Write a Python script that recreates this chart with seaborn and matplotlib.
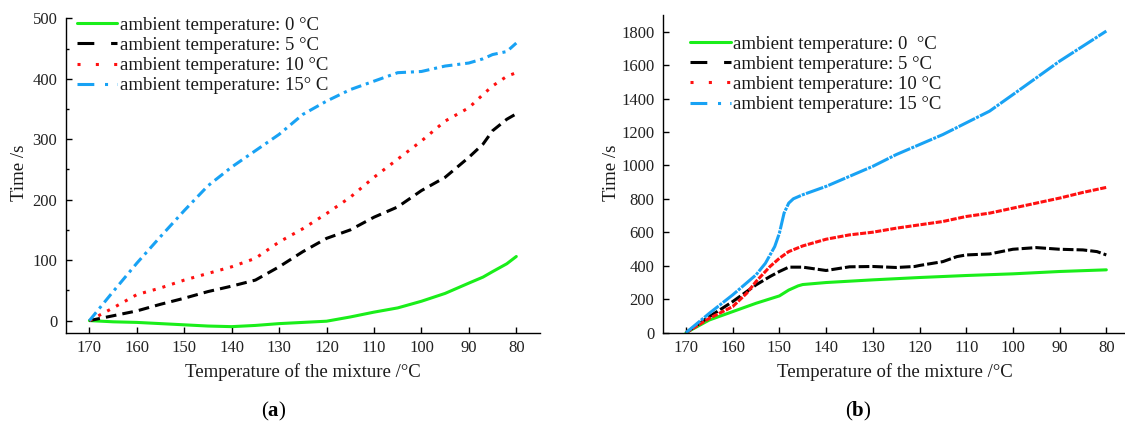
import matplotlib
matplotlib.use("Agg")
import matplotlib.pyplot as plt
import seaborn as sns
from matplotlib.lines import Line2D
from matplotlib.ticker import MultipleLocator

# ---------------- data ----------------
# panel (a)
xa = [170, 165, 160, 155, 150, 145, 140, 135, 130, 125, 120, 115, 110, 105, 100, 95, 90, 87, 85, 82, 80]
a_0 = [0, -2, -3, -5, -7, -9, -10, -8, -5, -3, -1, 6, 14, 21, 32, 45, 62, 72, 81, 94, 106]
a_5 = [0, 8, 16, 27, 37, 48, 57, 67, 89, 114, 136, 150, 171, 188, 215, 237, 270, 292, 314, 333, 342]
a_10 = [0, 21, 43, 54, 67, 78, 89, 103, 130, 152, 177, 204, 237, 267, 297, 330, 352, 374, 388, 404, 410]
a_15 = [0, 48, 95, 139, 182, 223, 254, 281, 308, 341, 363, 382, 396, 410, 412, 421, 426, 433, 440, 445, 459]

# panel (b)
xb_0 = [170, 165, 160, 155, 150, 148, 146, 145, 140, 130, 120, 110, 100, 90, 80]
b_0 = [0, 76, 126, 176, 220, 255, 280, 288, 300, 316, 330, 342, 352, 366, 376]
xb_5 = [170, 165, 160, 155, 152, 150, 148, 145, 141, 140, 135, 130, 125, 121, 120, 115, 112, 110, 105, 100, 97, 95, 90, 85, 82, 80]
b_5 = [0, 96, 186, 286, 336, 366, 392, 392, 376, 372, 394, 396, 390, 396, 402, 425, 455, 465, 471, 499, 505, 509, 499, 495, 485, 465]
xb_10 = [170, 165, 160, 157, 155, 152, 150, 148, 145, 140, 135, 130, 125, 120, 115, 110, 105, 100, 95, 90, 85, 80]
b_10 = [0, 86, 156, 236, 306, 396, 445, 485, 519, 559, 585, 601, 625, 645, 665, 695, 715, 745, 775, 805, 839, 869]
xb_15 = [170, 165, 160, 155, 153, 151, 150, 149, 148, 147, 145, 140, 135, 130, 125, 120, 115, 110, 105, 100, 95, 90, 85, 80]
b_15 = [0, 116, 226, 346, 415, 515, 595, 715, 775, 801, 825, 875, 935, 995, 1065, 1125, 1185, 1255, 1325, 1424, 1524, 1624, 1714, 1804]

labels_a = ["ambient temperature: 0 \u00b0C", "ambient temperature: 5 \u00b0C",
            "ambient temperature: 10 \u00b0C", "ambient temperature: 15\u00b0 C"]
labels_b = ["ambient temperature: 0  \u00b0C", "ambient temperature: 5 \u00b0C",
            "ambient temperature: 10 \u00b0C", "ambient temperature: 15 \u00b0C"]
xticks = [170, 160, 150, 140, 130, 120, 110, 100, 90, 80]
xlabel = "Temperature of the mixture /\u00b0C"
ylabel = "Time /s"

# ---------------- style ----------------
colors = ["#1aee1a", "#000000", "#ff1010", "#18a2f4"]
styles_a = ["-", (0, (3.5, 2.0)), (0, (1.0, 2.3)), (0, (3.5, 1.6, 1.0, 1.6))]
styles_b = ["-", (0, (3.5, 1.0)), (0, (2.0, 0.5)), (0, (6.0, 0.4, 1.0, 0.4))]
legend_styles = ["-", (0, (5.5, 5.5)), (0, (1.0, 5.0)), (0, (5.5, 3.5, 1.0, 3.0))]
LW = 2.2

sns.set_theme(style="ticks")
plt.rcParams["font.family"] = ["Liberation Serif", "DejaVu Serif"]
plt.rcParams["mathtext.fontset"] = "custom"
plt.rcParams["mathtext.rm"] = "Liberation Serif"
plt.rcParams["mathtext.bf"] = "Liberation Serif:bold"

fig = plt.figure(figsize=(11.25, 4.23), dpi=100)
axA = fig.add_axes([0.0584, 0.2135, 0.4216, 0.7433])
axB = fig.add_axes([0.589, 0.2135, 0.411, 0.751])

seriesA = [(xa, a_0), (xa, a_5), (xa, a_10), (xa, a_15)]
seriesB = [(xb_0, b_0), (xb_5, b_5), (xb_10, b_10), (xb_15, b_15)]

for (x, y), c, ls in zip(seriesA, colors, styles_a):
    sns.lineplot(x=x, y=y, ax=axA, color=c, lw=LW, linestyle=ls,
                 sort=False, estimator=None, legend=False)
for (x, y), c, ls in zip(seriesB, colors, styles_b):
    sns.lineplot(x=x, y=y, ax=axB, color=c, lw=LW, linestyle=ls,
                 sort=False, estimator=None, legend=False)

for ax in (axA, axB):
    for s in ("top", "right"):
        ax.spines[s].set_visible(False)
    for s in ("left", "bottom"):
        ax.spines[s].set_linewidth(1.0)
        ax.spines[s].set_color("black")
    ax.set_xticks(xticks)
    ax.set_xticklabels([str(t) for t in xticks])
    ax.tick_params(axis="both", which="major", direction="in", length=4.5, width=1.0,
                   labelsize=12, colors="black", labelcolor="#222222")
    ax.tick_params(axis="x", pad=5)
    ax.tick_params(axis="y", pad=6)
    ax.set_xlabel("")
    ax.set_ylabel("")
    ax.set_facecolor("white")

axA.set_xlim(175, 75)
axA.set_ylim(-20, 500)
axA.set_yticks([0, 100, 200, 300, 400, 500])
axA.yaxis.set_minor_locator(MultipleLocator(50))
axA.tick_params(axis="y", which="minor", direction="in", length=2.5, width=1.0, colors="black")

axB.set_xlim(175, 76)
axB.set_ylim(0, 1900)
axB.set_yticks(list(range(0, 1801, 200)))

def make_handles():
    return [Line2D([0], [0], color=c, lw=LW, linestyle=ls)
            for c, ls in zip(colors, legend_styles)]

legA = axA.legend(make_handles(), labels_a, loc="upper left", bbox_to_anchor=(0.023, 1.005),
                  frameon=False, fontsize=13.5, handlelength=2.17, handletextpad=0.12,
                  labelspacing=0.16, borderpad=0, borderaxespad=0)
legB = axB.legend(make_handles(), labels_b, loc="upper left", bbox_to_anchor=(0.059, 0.935),
                  frameon=False, fontsize=13.5, handlelength=2.17, handletextpad=0.12,
                  labelspacing=0.16, borderpad=0, borderaxespad=0)
for leg in (legA, legB):
    for t in leg.get_texts():
        t.set_color("#1a1a1a")

fig.text(0.2693, 0.1213, xlabel, ha="center", va="center", fontsize=13.5, color="#1a1a1a")
fig.text(0.7956, 0.1213, xlabel, ha="center", va="center", fontsize=13.5, color="#1a1a1a")
fig.text(0.0174, 0.591, ylabel, ha="center", va="center", rotation=90, fontsize=13.5, color="#1a1a1a")
fig.text(0.5438, 0.591, ylabel, ha="center", va="center", rotation=90, fontsize=13.5, color="#1a1a1a")
fig.text(0.2436, 0.028, r"($\mathbf{a}$)", ha="center", va="center", fontsize=15, color="black")
fig.text(0.7630, 0.028, r"($\mathbf{b}$)", ha="center", va="center", fontsize=15, color="black")

fig.savefig("out.png", dpi=100, facecolor="white")
